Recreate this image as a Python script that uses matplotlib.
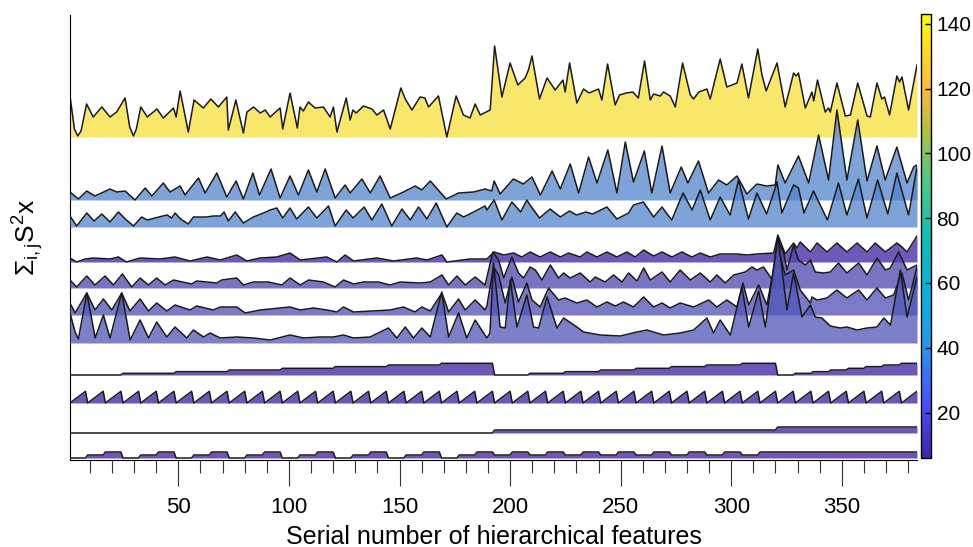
import numpy as np
import matplotlib
matplotlib.use("Agg")
import matplotlib.pyplot as plt
from matplotlib.colors import LinearSegmentedColormap, Normalize
from matplotlib.cm import ScalarMappable

plt.rcParams['font.family'] = ['Liberation Sans', 'DejaVu Sans']
plt.rcParams['mathtext.fontset'] = 'custom'
plt.rcParams['mathtext.rm'] = 'Liberation Sans'
plt.rcParams['mathtext.it'] = 'Liberation Sans:italic'

# ---- data: (feature number, height above the row baseline) ----
yellow_pts = [(1, 41), (3, 8), (4.5, 1), (6, 6), (8.5, 33), (11.5, 20), (15.4, 30), (19.1, 20), (22.1, 25),
              (25.9, 39), (28, 10), (29.7, 1), (31, 8), (33, 30), (36, 20), (40.3, 28), (43.2, 19), (47.8, 29),
              (49, 20), (50.8, 46), (54.5, 5), (57.1, 37), (61.3, 29), (64.7, 38), (68.1, 30), (71.9, 40),
              (72.6, 7), (76, 37), (79.4, 4), (81, 25), (84, 30), (87, 24), (89.3, 27), (91.5, 20), (96, 29),
              (97.2, 8), (100.5, 44), (103.8, 9), (105, 30), (106.5, 26), (108.8, 35), (111.8, 29), (115.6, 30),
              (118.6, 20), (120.1, 30), (121.7, 5), (125.9, 39), (127.7, 17), (128.9, 27), (130.4, 24),
              (133.7, 31), (137.5, 28), (139.8, 22), (142.8, 27), (145.8, 8), (150.6, 49), (152.6, 38),
              (155.6, 27), (159.3, 40), (161.5, 39), (163.1, 30), (167.6, 41), (171.4, 0), (175.6, 41),
              (178.9, 22), (181.9, 19), (184.2, 33), (186.5, 22), (191, 27), (193, 91), (196.3, 40), (200, 74),
              (203.5, 52), (206.8, 59), (208.3, 67), (209.9, 81), (213.3, 38), (216.7, 59), (220.4, 47),
              (223.9, 57), (224.9, 45), (226.9, 74), (230.2, 34), (233.2, 48), (235.7, 44), (240, 48),
              (241.5, 37), (244.1, 73), (247.5, 32), (249.5, 42), (252.5, 44), (255.5, 45), (258, 39),
              (260.8, 76), (263.4, 37), (264.9, 43), (267.9, 41), (269.4, 45), (272.4, 41), (274.7, 30),
              (278, 74), (281.5, 42), (283, 38), (285.3, 45), (289, 48), (290.5, 38), (295, 78), (298, 50),
              (302.6, 54), (304.8, 73), (307.8, 39), (312, 88), (313.9, 62), (315.8, 46), (320.7, 74),
              (324.4, 30), (328.2, 64), (329.4, 61), (330.4, 64), (333.5, 29), (336.5, 45), (337.3, 36),
              (339, 57), (342.5, 25), (344, 29), (344.8, 25), (347.8, 54), (351.6, 21), (353.9, 22),
              (357.2, 54), (361.4, 21), (362.9, 20), (365.9, 54), (368.1, 38), (369.3, 40), (371.6, 22),
              (374.9, 61), (376.1, 55), (377.2, 60), (380.2, 27), (384, 72)]

blue_a_pts = [(1, 8), (4.8, 1), (8.6, 9), (12.3, 4), (19.1, 11), (22.1, 8), (25.9, 9), (30.4, 0), (35, 12),
              (38, 4), (43.2, 17), (46.2, 8), (50.8, 14), (53, 5), (59.1, 22), (62.1, 7), (67.4, 27), (71.9, 3),
              (76.1, 19), (79.4, 1), (83.7, 27), (86.7, 5), (91.9, 31), (96, 2), (100.5, 24), (104.3, 5),
              (108.8, 30), (112.6, 8), (116.4, 31), (120.9, 2), (125.4, 15), (127.7, 7), (133, 21), (136.8, 7),
              (141.2, 24), (145.8, 2), (151.8, 8), (157.1, 14), (160.1, 10), (163.9, 19), (171.1, 1),
              (176.7, 7), (183.5, 8), (188.7, 11), (191.7, 9), (192.8, 19), (195.5, 6), (201.5, 21), (206, 16),
              (209.9, 23), (213.7, 5), (219, 29), (222.7, 11), (227.2, 36), (231, 7), (235.5, 43), (239.3, 17),
              (244.2, 50), (248.3, 7), (252.1, 58), (255.8, 18), (260.7, 49), (264.1, 7), (268.7, 54),
              (272.4, 7), (277.4, 33), (280.4, 17), (285.2, 39), (289.7, 7), (294.3, 20), (298, 15),
              (302.6, 24), (307.1, 6), (311.6, 16), (316, 14), (319.9, 15), (321.1, 35), (324.4, 17),
              (330.4, 44), (335, 17), (339.5, 65), (344, 20), (347.8, 90), (352.3, 20), (357.2, 80),
              (361.4, 19), (365.9, 54), (369.6, 20), (374.9, 53), (379.5, 17), (382.5, 33), (384, 35)]

blue_b_pts = [(1, 11), (4, 1), (8.6, 14), (11.9, 6), (15.4, 13), (19.1, 5), (22.9, 15), (26, 8), (29.7, 1),
              (33.4, 10), (36, 7), (41.2, 10), (44.9, 12), (47, 9), (48.5, 14), (51, 8), (54.5, 3), (56.8, 10),
              (62.8, 10), (65.8, 11), (69, 11), (70.7, 15), (72.6, 6), (75.7, 15), (79.4, 4), (83.9, 10),
              (88.5, 14), (91.5, 17), (94.5, 19), (97.2, 9), (100.5, 19), (103.5, 8), (108.8, 20), (112.6, 9),
              (117.9, 21), (120.9, 1), (125.9, 17), (129, 9), (134, 20), (137.5, 7), (142, 23), (146.5, 1),
              (151.1, 18), (154.9, 7), (158.6, 20), (162.4, 8), (166.6, 24), (171.4, 0), (175.9, 14),
              (179, 10), (183.5, 15), (188.7, 21), (189.5, 17), (192.8, 27), (196.3, 7), (200.8, 25),
              (204.8, 15), (207.6, 27), (209, 22), (213.3, 9), (218.1, 18), (222.7, 10), (226.9, 16),
              (230, 12), (234.3, 15), (237.3, 13), (243.8, 20), (248.3, 8), (253.6, 14), (255.8, 22),
              (260.3, 25), (264.9, 10), (268.7, 20), (270, 16), (273.1, 7), (278.2, 34), (282.3, 17),
              (286, 37), (290.5, 7), (295, 30), (299.5, 12), (303.3, 47), (307.8, 8), (311.6, 34), (316, 13),
              (319.9, 39), (320.7, 45), (322.9, 14), (328.2, 42), (330.4, 39), (332.9, 14), (337.2, 36),
              (343.5, 7), (348.5, 44), (352.3, 12), (357.5, 48), (361.4, 9), (366.2, 47), (370.8, 13),
              (374.9, 54), (380.2, 12), (384, 60)]

purple_a_pts = [(1, 4), (4, 0), (7.8, 3), (11.6, 4), (19.1, 3), (22.9, 5), (26.5, 0), (32.7, 4), (41.7, 3),
                (48.5, 5), (55.3, 1), (62.9, 5), (68.9, 2), (76.4, 7), (81, 1), (87, 4), (94.5, 5),
                (100.5, 9), (105.1, 2), (117.1, 5), (121.7, 0), (125.4, 7), (129.2, 1), (139.8, 4),
                (147.3, 1), (157.8, 4), (162.4, 2), (169.2, 7), (171.4, 0), (181.9, 3), (189.5, 3),
                (192.8, 10), (197.1, 7), (201.6, 9), (205.3, 5), (209.1, 10), (213.6, 5), (218.2, 10),
                (222.7, 5), (226.5, 9), (231.7, 5), (234.7, 10), (239.3, 5), (243.8, 10), (248.3, 5),
                (252.8, 10), (256.6, 5), (260.4, 12), (264.9, 6), (268.7, 10), (273.2, 5), (277.7, 10),
                (282.2, 5), (286, 9), (290.5, 5), (295, 8), (302.6, 8), (307.1, 7), (311.6, 8), (319.2, 9),
                (321.1, 27), (324.4, 8), (328.2, 19), (329.7, 14), (331.2, 20), (335.8, 10), (338.8, 19),
                (343.3, 10), (347.8, 19), (352.3, 10), (356.9, 19), (361.4, 10), (365.1, 19), (369.7, 10),
                (374.9, 19), (377.2, 15), (379.5, 10), (384, 26)]

purple_b_pts = [(1, 8), (4, 1), (8.6, 12), (12.3, 3), (16.9, 12), (20.6, 3), (24.7, 14), (28.9, 1), (32.7, 10),
                (36.5, 3), (40.2, 10), (44, 3), (47.8, 8), (56, 4), (58.3, 7), (67.4, 5), (69.6, 8), (76.4, 10),
                (79.4, 3), (83.9, 6), (90.7, 6), (96.8, 3), (100.5, 10), (105.1, 3), (108.9, 8), (115.6, 6),
                (120.9, 1), (124.7, 8), (129.2, 4), (133.7, 6), (140.5, 6), (145.7, 3), (150.3, 6), (159.3, 5),
                (163.9, 6), (169.2, 13), (172.2, 3), (176, 12), (179.7, 3), (184.2, 11), (188.7, 3),
                (192.2, 36), (194.8, 28), (197.1, 10), (200.8, 31), (203.8, 15), (206.1, 10), (209.1, 21),
                (211.4, 18), (214.4, 8), (218.2, 23), (221.9, 10), (224.2, 15), (227.2, 10), (231.7, 15),
                (236.2, 6), (238.5, 11), (243, 6), (246.8, 13), (250.6, 6), (253.6, 15), (257.4, 7),
                (260.4, 20), (263.4, 8), (268.7, 16), (272.4, 6), (276.9, 18), (281.5, 8), (286, 15),
                (290.5, 6), (293.5, 13), (297.3, 5), (301.1, 13), (306.3, 16), (309.4, 21), (311.6, 18),
                (314.6, 21), (319.2, 6), (321.1, 48), (323.7, 35), (325.2, 18), (328.2, 43), (330.4, 28),
                (333.5, 23), (335.8, 28), (338, 16), (341.8, 15), (344.8, 16), (348.5, 25), (352.3, 15),
                (357.6, 25), (361.4, 13), (365.9, 30), (369.7, 18), (371.9, 20), (375.7, 36), (379.5, 18),
                (384, 23)]

purple_c_pts = [(1, 12), (3.3, 2), (8.6, 22), (12.3, 5), (16.1, 16), (19.9, 5), (24.4, 22), (28.1, 4),
                (32.7, 16), (36.5, 4), (40.2, 12), (44.8, 4), (48.5, 10), (55.3, 5), (58.3, 9), (65.8, 5),
                (68.9, 8), (76.4, 8), (80.2, 2), (87, 5), (100.5, 8), (105.1, 5), (111.1, 7), (117.1, 5),
                (121.7, 3), (124.7, 8), (129.2, 3), (145.7, 5), (151.8, 8), (157, 3), (160.1, 8), (163.9, 4),
                (169.2, 22), (172.2, 3), (176.7, 16), (179.7, 5), (184.2, 15), (188.7, 5), (189.5, 9),
                (192.5, 48), (194.8, 40), (197.8, 12), (200.8, 38), (203.8, 13), (207.6, 32), (209.9, 15),
                (213.6, 8), (217.4, 27), (221.9, 15), (224.9, 17), (230.2, 12), (234.7, 15), (239.3, 8),
                (243.8, 13), (247.6, 9), (251.3, 13), (255.8, 8), (260.4, 18), (264.9, 8), (268.7, 12),
                (272.4, 7), (276.9, 12), (283, 8), (289.8, 15), (293.5, 8), (298, 15), (302.6, 8), (305.3, 32),
                (307.9, 10), (312.4, 30), (316.1, 10), (321.1, 68), (324.4, 40), (328.2, 45), (331.2, 25),
                (335.8, 12), (336.5, 18), (338.8, 15), (343.3, 17), (347.8, 25), (352.3, 17), (357.6, 25),
                (361.4, 15), (365.9, 27), (369.7, 17), (373.4, 20), (377.2, 42), (380.2, 15), (384, 48)]

purple_d_pts = [(1, 30), (3.3, 11), (4.8, 4), (8.6, 50), (12.4, 5), (16.1, 28), (19.1, 5), (24.4, 50), (28.2, 3),
                (32.7, 23), (36.5, 5), (40.2, 21), (44.8, 6), (48.5, 16), (53.8, 5), (56.8, 13), (61.4, 6),
                (64.4, 10), (68.9, 5), (76.4, 6), (84, 5), (91.5, 3), (100.5, 8), (106.6, 5), (114.1, 6),
                (120.1, 6), (124.7, 8), (129.2, 5), (136.7, 6), (145, 15), (148.8, 5), (152.6, 16), (156.3, 5),
                (160.1, 15), (163.9, 6), (169.1, 51), (172.2, 6), (176.7, 30), (180.4, 5), (184.2, 23),
                (189.5, 5), (190.9, 10), (192.5, 80), (195.5, 16), (197.8, 15), (200.1, 63), (203.1, 16),
                (207.6, 48), (210.6, 16), (212.9, 15), (216.7, 46), (221.2, 15), (224.2, 25), (230.2, 16),
                (233.2, 11), (240.8, 8), (249.8, 7), (257.4, 11), (261.9, 13), (269.4, 8), (277, 10),
                (283, 13), (289, 25), (292, 10), (295, 23), (299.6, 8), (304.8, 56), (307.9, 16), (312.4, 52),
                (315.4, 16), (321.1, 107), (325.2, 33), (328.2, 70), (332, 26), (335.8, 38), (338, 26),
                (341, 25), (344.8, 17), (349.3, 15), (352.3, 16), (356.9, 13), (361.4, 15), (365.9, 16),
                (369, 25), (372, 18), (376.5, 73), (379.5, 26), (384, 66)]

# index rows: one level per group of 8 features (48 groups)
step_groups = [0, 0, 0, 1, 1, 1, 2, 2, 2, 3, 3, 3, 4, 4, 4, 5, 5, 5, 6, 6, 6, 7, 7, 7,
               0, 0, 1, 1, 2, 2, 3, 3, 4, 4, 5, 5, 6, 6, 7, 7,
               0, 1, 2, 3, 4, 5, 6, 7]
saw_in_group = [0, 1, 2, 3, 4, 5, 6, 7]
block_groups = [0] * 24 + [1] * 16 + [2] * 8
trap_groups = [0, 1, 2] * 8 + [1, 2] * 8 + [2] * 8

n_features = 384
cbar_ticks = [20, 40, 60, 80, 100, 120, 140]

# ---- layout / style ----
baselines = [323, 260, 233, 198, 172, 145, 117, 85, 57, 27, 2]
fill_colors = ['#F6DF3A', '#5285CC', '#5285CC', '#4020A0', '#4B46AE', '#4E4EB4', '#5056B8',
               '#3F1E9E', '#3F1E9E', '#3F1E9E', '#3F1E9E']
index_scale = [1.67, 1.67, 3.0, 3.0]

parula = LinearSegmentedColormap.from_list('parula', [
    (0.00, (0.242, 0.150, 0.660)), (0.125, (0.281, 0.323, 0.958)), (0.25, (0.154, 0.590, 0.922)),
    (0.375, (0.050, 0.690, 0.860)), (0.50, (0.080, 0.740, 0.700)), (0.625, (0.300, 0.780, 0.520)),
    (0.74, (0.700, 0.750, 0.250)), (0.83, (0.990, 0.720, 0.250)), (1.00, (0.976, 0.983, 0.054))])

fig = plt.figure(figsize=(9.73, 5.47), dpi=100)
ax = fig.add_axes([70 / 973, 1 - 460 / 547, 847 / 973, 445 / 547])

feat = np.arange(1, n_features + 1)
rows = [np.array(p).T for p in [yellow_pts, blue_a_pts, blue_b_pts, purple_a_pts,
                                purple_b_pts, purple_c_pts, purple_d_pts]]
rows.append(np.vstack([feat, np.repeat(step_groups, 8) * index_scale[0]]))
rows.append(np.vstack([feat, np.tile(saw_in_group, 48) * index_scale[1]]))
rows.append(np.vstack([feat, np.repeat(block_groups, 8) * index_scale[2]]))
rows.append(np.vstack([feat, np.repeat(trap_groups, 8) * index_scale[3]]))

for k, (xs, hs) in enumerate(rows):
    b = baselines[k]
    ax.fill_between(xs, b, b + hs, color=fill_colors[k], alpha=0.75, lw=0, zorder=2 * k + 1)
    ax.plot(xs, b + hs, color='#1a1a1a', lw=1.1, solid_joinstyle='round', zorder=2 * k + 2)

ax.set_xlim(1, n_features)
ax.set_ylim(0, 445)
ax.spines['top'].set_visible(False)
ax.spines['right'].set_visible(False)
ax.set_yticks([])
ax.set_xticks(np.arange(50, 351, 50))
ax.set_xticks(np.arange(10, 381, 10), minor=True)
ax.tick_params(axis='x', which='major', direction='out', length=18.5, width=0.8,
               color='#333333', labelsize=16, pad=8)
ax.tick_params(axis='x', which='minor', direction='out', length=9.4, width=0.8, color='#333333')
ax.set_xlabel('Serial number of hierarchical features', fontsize=18, labelpad=5)
ax.set_ylabel(r'$\Sigma_{\mathrm{i,j}}\mathrm{S}^2\mathrm{x}$', fontsize=19, labelpad=17)

cax = fig.add_axes([921 / 973, 1 - 458 / 547, 10 / 973, 444 / 547])
sm = ScalarMappable(norm=Normalize(6, 143), cmap=parula)
cb = fig.colorbar(sm, cax=cax, ticks=cbar_ticks)
cb.ax.tick_params(direction='in', length=4, width=1, labelsize=15, pad=4)
cb.outline.set_linewidth(1)

fig.savefig('out.png', dpi=100)
